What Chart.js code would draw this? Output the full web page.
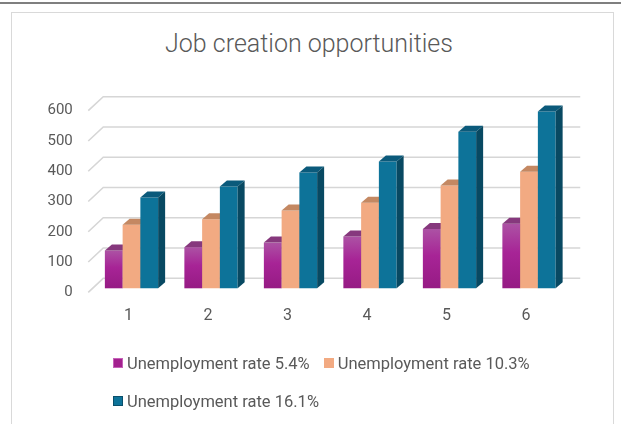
<!DOCTYPE html>
<html>
<head>
<meta charset="utf-8">
<script src="https://cdn.jsdelivr.net/npm/chart.js@4.4.1/dist/chart.umd.min.js"></script>
<style>
  html,body{margin:0;padding:0;background:#fff;}
  #wrap{position:relative;width:621px;height:424px;overflow:hidden;background:#fff;font-family:Roboto,"Liberation Sans",sans-serif;}
  #topline{position:absolute;left:0;top:2px;width:621px;height:2px;background:#7f7f7f;}
  #box{position:absolute;left:11px;top:12px;width:603px;height:430px;border:1.5px solid #d9d9d9;box-sizing:border-box;}
  #title{position:absolute;left:0;width:618px;top:29px;text-align:center;font-size:25px;font-weight:300;color:#595959;line-height:30px;}
  #c{position:absolute;left:0;top:0;}
  #legend{position:absolute;left:113px;top:353px;width:440px;display:flex;flex-wrap:wrap;row-gap:18px;column-gap:14px;}
  .item{display:flex;align-items:center;height:20px;font-size:16.5px;color:#595959;}
  .sw{width:10px;height:10px;margin-right:4px;box-sizing:border-box;border:1px solid;}
</style>
</head>
<body>
<div id="wrap">
  <div id="topline"></div>
  <div id="box"></div>
  <div id="title">Job creation opportunities</div>
  <canvas id="c" width="621" height="424"></canvas>
  <div id="legend"></div>
</div>
<script>
// ---- data ----
const categories = ['1', '2', '3', '4', '5', '6'];
const seriesNames = ['Unemployment rate 5.4%', 'Unemployment rate 10.3%', 'Unemployment rate 16.1%'];
const rate54  = [125, 136, 151, 171, 196, 213];
const rate103 = [210, 228, 257, 283, 340, 385];
const rate161 = [300, 336, 383, 419, 517, 584];
const yTicks = [0, 100, 200, 300, 400, 500, 600];

// ---- styling ----
const frontColors = ['#a3218f', '#f2aa82', '#0d7399'];
const topColors   = ['#86387d', '#c48862', '#0b5a7b'];
const sideColors  = ['#7a1a6c', '#c07a52', '#084962'];
const swBorders   = ['#c562b8', '#f2aa82', '#0a4f6b'];
const DX = 7, DY = 6;

function purpleGradient(ctx) {
  const chart = ctx.chart;
  const ys = chart.scales && chart.scales.y;
  if (!ys || ctx.raw === undefined) return frontColors[0];
  const top = ys.getPixelForValue(ctx.raw);
  const base = ys.getPixelForValue(0);
  if (!isFinite(top) || !isFinite(base)) return frontColors[0];
  const g = chart.ctx.createLinearGradient(0, top, 0, base);
  g.addColorStop(0, '#ac52a4');
  g.addColorStop(0.45, '#a72496');
  g.addColorStop(1, '#961b84');
  return g;
}

const bars3d = {
  id: 'bars3d',
  beforeDatasetsDraw(chart) {
    const ctx = chart.ctx, ys = chart.scales.y, area = chart.chartArea;
    // 3D gridlines: front floor edge -> back wall
    ctx.save();
    ctx.strokeStyle = '#d6d6d6';
    ctx.lineWidth = 1.6;
    yTicks.forEach(v => {
      const yb = ys.getPixelForValue(v);
      ctx.beginPath();
      ctx.moveTo(area.left - 3.5, yb + 4);
      ctx.lineTo(area.left + 11.5, yb - 10);
      ctx.lineTo(area.right + 11.5, yb - 10);
      ctx.stroke();
    });
    ctx.restore();
    // bars, drawn series by series so adjacent faces overlap correctly
    chart.data.datasets.forEach((ds, i) => {
      const meta = chart.getDatasetMeta(i);
      meta.data.forEach(bar => {
        const p = bar.getProps(['x', 'y', 'base', 'width'], true);
        const l = p.x - p.width / 2, r = p.x + p.width / 2;
        bar.draw(ctx, area);
        ctx.save();
        // top face
        ctx.fillStyle = topColors[i];
        ctx.beginPath();
        ctx.moveTo(l, p.y);
        ctx.lineTo(l + DX, p.y - DY);
        ctx.lineTo(r + DX, p.y - DY);
        ctx.lineTo(r, p.y);
        ctx.closePath();
        ctx.fill();
        // side face
        ctx.fillStyle = sideColors[i];
        ctx.beginPath();
        ctx.moveTo(r, p.y);
        ctx.lineTo(r + DX, p.y - DY);
        ctx.lineTo(r + DX, p.base - DY);
        ctx.lineTo(r, p.base);
        ctx.closePath();
        ctx.fill();
        ctx.restore();
      });
    });
    return false;
  }
};

const seriesData = [rate54, rate103, rate161];
const chart = new Chart(document.getElementById('c'), {
  type: 'bar',
  data: {
    labels: categories,
    datasets: seriesData.map((d, i) => ({
      label: seriesNames[i],
      data: d,
      backgroundColor: i === 0 ? purpleGradient : frontColors[i],
      borderWidth: 0,
      categoryPercentage: 0.67,
      barPercentage: 1.0
    }))
  },
  plugins: [bars3d],
  options: {
    responsive: false,
    animation: false,
    devicePixelRatio: 1,
    layout: { padding: { left: 0, right: 52.25, top: 106.7, bottom: 95.7 } },
    plugins: { legend: { display: false }, title: { display: false }, tooltip: { enabled: false } },
    scales: {
      x: {
        grid: { display: false, drawTicks: false },
        border: { display: false },
        ticks: { color: '#595959', font: { family: 'Roboto', size: 16 }, padding: 18, labelOffset: -3, maxRotation: 0 },
        afterFit(s) { s.height = 40; }
      },
      y: {
        min: 0, max: 600,
        grid: { display: false, drawTicks: false },
        border: { display: false },
        ticks: { stepSize: 100, color: '#595959', font: { family: 'Roboto', size: 15 }, padding: 19, labelOffset: 4 },
        afterFit(s) { s.width = 91.75; }
      }
    }
  }
});

// HTML legend from the series names
const lg = document.getElementById('legend');
seriesNames.forEach((n, i) => {
  const it = document.createElement('div');
  it.className = 'item';
  const sw = document.createElement('span');
  sw.className = 'sw';
  sw.style.background = frontColors[i];
  sw.style.borderColor = swBorders[i];
  const tx = document.createElement('span');
  tx.textContent = n;
  it.appendChild(sw); it.appendChild(tx);
  lg.appendChild(it);
});
</script>
</body>
</html>
